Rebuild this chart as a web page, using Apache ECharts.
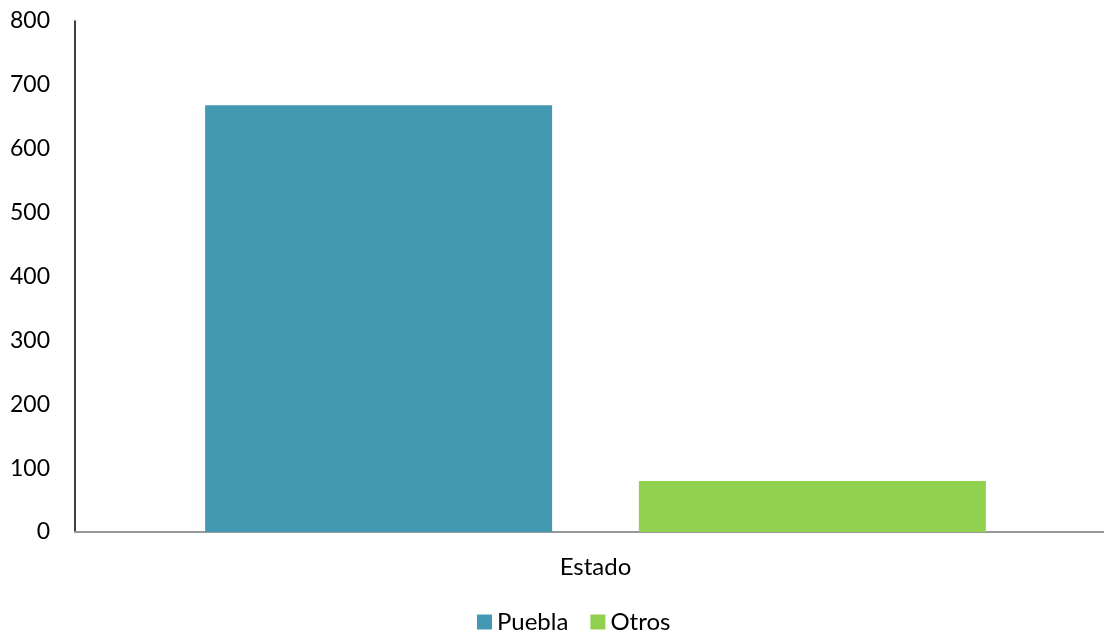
<!DOCTYPE html>
<html>
<head>
<meta charset="utf-8">
<script src="https://cdn.jsdelivr.net/npm/echarts@6/dist/echarts.min.js"></script>
<style>
  html, body { margin: 0; padding: 0; background: #fff; }
  #chart { width: 1104px; height: 635px; }
</style>
</head>
<body>
<div id="chart"></div>
<script>
// Conteo por estado de origen
const categories = ['Estado'];
const seriesNames = ['Puebla', 'Otros'];
const pueblaValues = [668];
const otrosValues = [80];
const seriesColors = ['#4399B1', '#92D050'];

const font = 'Lato, "Liberation Sans", sans-serif';

const chart = echarts.init(document.getElementById('chart'));
chart.setOption({
  animation: false,
  textStyle: { fontFamily: font },
  grid: {
    left: 75, width: 1041, top: 21, bottom: 103,
    containLabel: false, outerBoundsMode: 'none'
  },
  legend: {
    bottom: -4,
    left: 472,
    itemWidth: 15,
    itemHeight: 15,
    itemGap: 22,
    icon: 'rect',
    textStyle: { fontSize: 24, color: '#000', fontFamily: font },
    data: seriesNames
  },
  xAxis: {
    type: 'category',
    data: categories,
    axisLine: { lineStyle: { color: '#999', width: 2 } },
    axisTick: { show: false },
    axisLabel: { fontSize: 24, color: '#000', margin: 23, fontFamily: font },
    splitLine: { show: false }
  },
  yAxis: {
    type: 'value',
    min: 0,
    max: 800,
    interval: 100,
    axisLine: { show: true, lineStyle: { color: '#000', width: 1.5 } },
    axisTick: { show: false },
    axisLabel: { fontSize: 23, color: '#000', margin: 25, fontFamily: font },
    splitLine: { show: false }
  },
  series: [
    {
      name: seriesNames[0],
      type: 'bar',
      data: pueblaValues,
      barWidth: 347,
      barGap: '25%',
      itemStyle: { color: seriesColors[0] }
    },
    {
      name: seriesNames[1],
      type: 'bar',
      data: otrosValues,
      barWidth: 347,
      barGap: '25%',
      itemStyle: { color: seriesColors[1] }
    }
  ]
});
</script>
</body>
</html>
